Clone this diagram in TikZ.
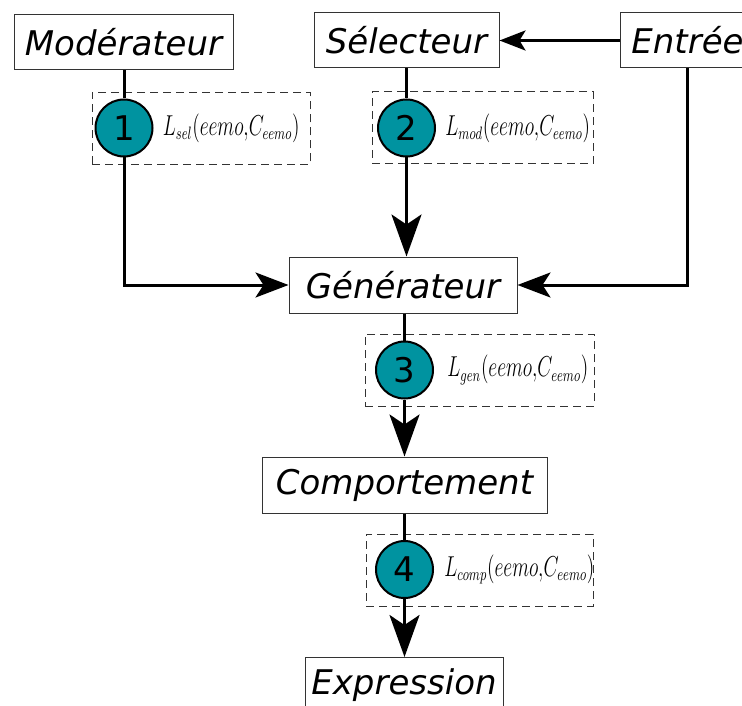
\documentclass[tikz,border=0pt]{standalone}
\usepackage{amsmath}
\usepackage{xcolor}
\usepackage{fontspec}
\setsansfont{DejaVu Sans}
\usetikzlibrary{arrows.meta,positioning}
\definecolor{tealdot}{RGB}{0,147,160}
\newcommand{\lossterm}[1]{\scalebox{0.68}[1]{$L_{#1}(eemo{,}C_{eemo})$}}

\begin{document}
\begin{tikzpicture}[x=0.5pt, y=-0.5pt,
  block/.style={draw=black!80, line width=0.5pt, fill=white, inner sep=2pt, minimum height=27.5pt, font=\fontsize{17}{20}\selectfont\sffamily\itshape},
  numdot/.style={circle, draw=black, line width=1pt, fill=tealdot, minimum size=28.5pt, inner sep=0pt, font=\fontsize{17}{20}\selectfont\sffamily},
  lossbox/.style={draw=black!80, dashed, dash pattern=on 4pt off 2.5pt, line width=0.5pt, minimum height=36pt, inner sep=0pt},
  losslabel/.style={inner sep=0pt, font=\fontsize{13.5}{16}\selectfont},
  flow/.style={line width=1.5pt},
  bigtip/.style={-{Stealth[length=21pt, width=15pt, inset=5pt]}},
  midtip/.style={-{Stealth[length=16.5pt, width=12.5pt, inset=4pt]}},
  smalltip/.style={-{Stealth[length=13pt, width=10pt, inset=3pt]}}]
  \useasboundingbox (0,0) rectangle (742,705);
  \node[lossbox, minimum width=109pt] (b1) at (201,128.5) {};
  \node[lossbox, minimum width=110.5pt] (b2) at (482.5,128) {};
  \node[lossbox, minimum width=114.5pt] (b3) at (479.5,370) {};
  \node[lossbox, minimum width=113.5pt] (b4) at (479.5,570) {};
  \node[block, minimum width=109.5pt] (mod) at (123.5,42.5) {Modérateur};
  \node[block, minimum width=92.5pt] (sel) at (406.5,40.5) {Sélecteur};
  \node[block, minimum width=67pt, anchor=west] (ent) at (620,40.5) {Entrée};
  \node[block, minimum width=114pt, minimum height=28pt] (gen) at (403,285) {Générateur};
  \node[block, minimum width=142.5pt, minimum height=28pt] (comp) at (404.5,485) {Comportement};
  \node[block, minimum width=99pt, minimum height=28pt, anchor=north] (expr) at (404,657) {Expression};
  \node[numdot] (c1) at (124,128) {1};
  \node[numdot] (c2) at (406.5,128) {2};
  \node[numdot] (c3) at (404.5,370) {3};
  \node[numdot] (c4) at (404.5,569.5) {4};
  \node[losslabel, right=4.5pt of c1] (l1) {\lossterm{sel}};
  \node[losslabel, right=4.5pt of c2] (l2) {\lossterm{mod}};
  \node[losslabel, right=6.5pt of c3] (l3) {\lossterm{gen}};
  \node[losslabel, right=5pt of c4] (l4) {\lossterm{comp}};
  \draw[flow] (c1 |- mod.south) -- (c1.north);
  \draw[flow, midtip] (c1.south) |- (gen.west);
  \draw[flow] (c2 |- sel.south) -- (c2.north);
  \draw[flow, bigtip] (c2.south) -- (c2 |- gen.north);
  \draw[flow, smalltip] (ent.west) -- (sel.east);
  \draw[flow, midtip] (ent.south) |- (gen.east);
  \draw[flow] (c3 |- gen.south) -- (c3.north);
  \draw[flow, bigtip] (c3.south) -- (c3 |- comp.north);
  \draw[flow] (c4 |- comp.south) -- (c4.north);
  \draw[flow, bigtip] (c4.south) -- (c4 |- expr.north);
\end{tikzpicture}
\end{document}
